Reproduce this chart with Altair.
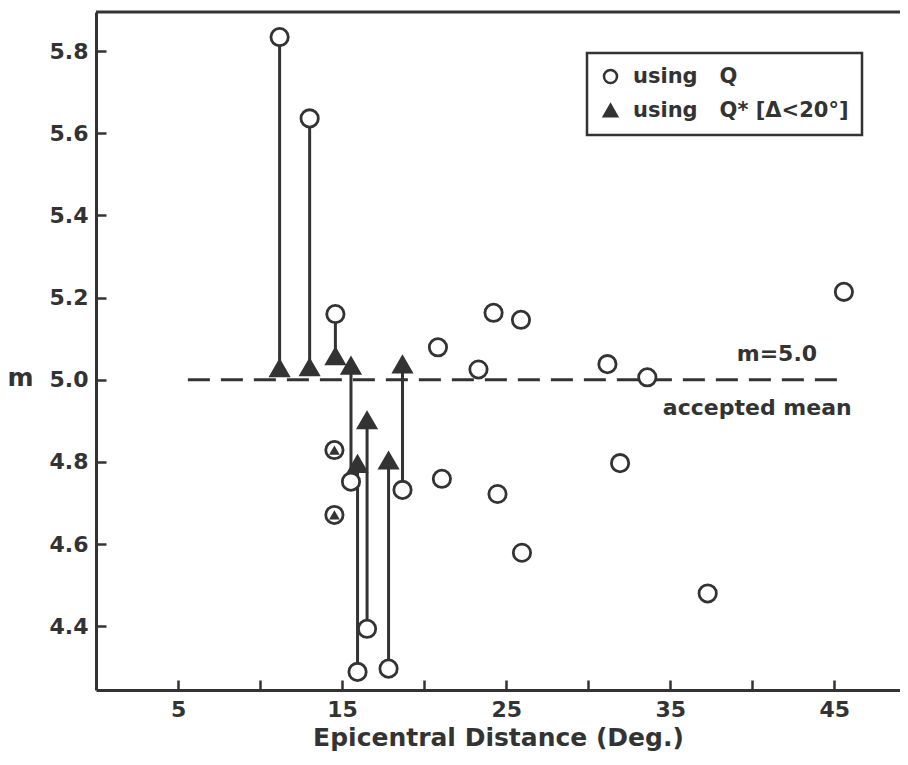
import altair as alt
import pandas as pd

# ---------------- data ----------------
# events with two estimates: Q (circle) joined to Q* (triangle)
pair_dist = [11.19, 13.02, 14.59, 15.54, 15.94, 16.52, 17.83, 18.68]
pair_q = [5.834, 5.636, 5.160, 4.752, 4.289, 4.394, 4.297, 4.732]
pair_qstar = [5.028, 5.030, 5.057, 5.034, 4.795, 4.901, 4.803, 5.037]

# events where Q and Q* coincide (triangle inside circle)
same_dist = [14.53, 14.53]
same_m = [4.829, 4.671]

# events estimated with Q only
q_dist = [20.84, 23.31, 24.23, 25.90, 31.17, 33.60, 45.58,
          21.08, 24.47, 31.94, 25.96, 37.28]
q_m = [5.079, 5.025, 5.163, 5.146, 5.038, 5.006, 5.214,
       4.759, 4.722, 4.797, 4.579, 4.480]

series_names = ["using\u00a0\u00a0\u00a0Q", "using\u00a0\u00a0\u00a0Q* [\u0394<20\u00b0]"]

mean_value = [5.0]
mean_start = [5.6]
mean_end = [45.4]

note_text = ["m=5.0", "accepted mean"]
note_x = [41.5, 40.3]
note_y = [5.0445, 4.915]

x_ticks = [5, 10, 15, 20, 25, 30, 35, 40, 45]
y_ticks = [4.4, 4.6, 4.8, 5.0, 5.2, 5.4, 5.6, 5.8]

# ---------------- chart ----------------
W, H = 804, 678
INK = "#333333"
FONT = "DejaVu Sans"

points = pd.DataFrame({
    "dist": pair_dist + same_dist + q_dist + pair_dist,
    "m": pair_q + same_m + q_m + pair_qstar,
    "series": [series_names[0]] * (len(pair_dist) + len(same_dist) + len(q_dist))
              + [series_names[1]] * len(pair_dist),
})
pairs = pd.DataFrame({"dist": pair_dist, "q": pair_q, "qs": pair_qstar})
same = pd.DataFrame({"dist": same_dist, "m": same_m})
mean_df = pd.DataFrame({"x0": mean_start, "x1": mean_end, "m": mean_value})
notes = pd.DataFrame({"t": note_text, "x": note_x, "y": note_y})

x_scale = alt.Scale(domain=[0, 49], nice=False, zero=False)
y_scale = alt.Scale(domain=[4.245, 5.895], nice=False, zero=False)

x_axis = alt.Axis(
    values=x_ticks,
    labelExpr="datum.value % 10 == 5 ? datum.label : ''",
    title="Epicentral Distance (Deg.)",
    titleY=55, titleBaseline="alphabetic",
    labelPadding=19,
    grid=False,
)
y_axis = alt.Axis(
    values=y_ticks, format=".1f",
    title="m", titleAngle=0, titleX=-76, titleY=373,
    titleAlign="center", titleBaseline="alphabetic",
    labelPadding=18,
    grid=False,
)


def X(field):
    return alt.X(f"{field}:Q", scale=x_scale, axis=x_axis)


def Y(field):
    return alt.Y(f"{field}:Q", scale=y_scale, axis=y_axis)


legend = alt.Legend(title=None, symbolStrokeWidth=2.5, labelLimit=500)

frame_top = alt.Chart(pd.DataFrame({"k": [0]})).mark_rule(
    color=INK, strokeWidth=3
).encode(x=alt.value(0), x2=alt.value(W), y=alt.value(0))

connectors = alt.Chart(pairs).mark_rule(color=INK, strokeWidth=3).encode(
    x=X("dist"), y=Y("q"), y2="qs:Q"
)

mean_line = alt.Chart(mean_df).mark_rule(
    color=INK, strokeWidth=3, strokeDash=[22, 11]
).encode(x=X("x0"), x2="x1:Q", y=Y("m"))

pts = alt.Chart(points).mark_point(
    size=300, strokeWidth=2.8, opacity=1, fillOpacity=1, strokeOpacity=1
).encode(
    x=X("dist"), y=Y("m"),
    shape=alt.Shape("series:N", scale=alt.Scale(domain=series_names,
                                                range=["circle", "triangle-up"]),
                    legend=legend),
    fill=alt.Fill("series:N", scale=alt.Scale(domain=series_names,
                                              range=["white", INK]),
                  legend=legend),
    stroke=alt.Stroke("series:N", scale=alt.Scale(domain=series_names,
                                                  range=[INK, INK]),
                      legend=legend),
    order=alt.Order("series:N"),
)

inner = alt.Chart(same).mark_point(
    shape="triangle-up", size=115, filled=True, color=INK, opacity=1
).encode(x=X("dist"), y=Y("m"))

texts = alt.Chart(notes).mark_text(
    font=FONT, fontSize=22, fontWeight="bold", color=INK,
    align="center", baseline="alphabetic"
).encode(x=X("x"), y=Y("y"), text="t:N")

chart = alt.layer(frame_top, connectors, mean_line, pts, inner, texts).properties(
    width=W, height=H,
    padding={"left": 88, "top": 4, "right": 0, "bottom": 62},
    autosize=alt.AutoSizeParams(type="none"),
    background="white",
).configure_view(stroke=None).configure_axis(
    domainColor=INK, domainWidth=3,
    tickColor=INK, tickWidth=2.5, tickSize={"expr": "-10"},
    labelFont=FONT, labelFontSize=22, labelFontWeight="bold", labelColor=INK,
    titleFont=FONT, titleFontSize=25, titleFontWeight="bold", titleColor=INK,
).configure_legend(
    orient="none", legendX=491, legendY=41,
    strokeColor=INK, strokeWidth=2.5, padding=13, fillColor="white",
    labelFont=FONT, labelFontSize=21, labelFontWeight="bold", labelColor=INK,
    symbolSize=170, symbolStrokeWidth=2.5,
    rowPadding=10, labelOffset=12,
)

chart.save("out.html", embed_options={"renderer": "svg", "actions": False})
